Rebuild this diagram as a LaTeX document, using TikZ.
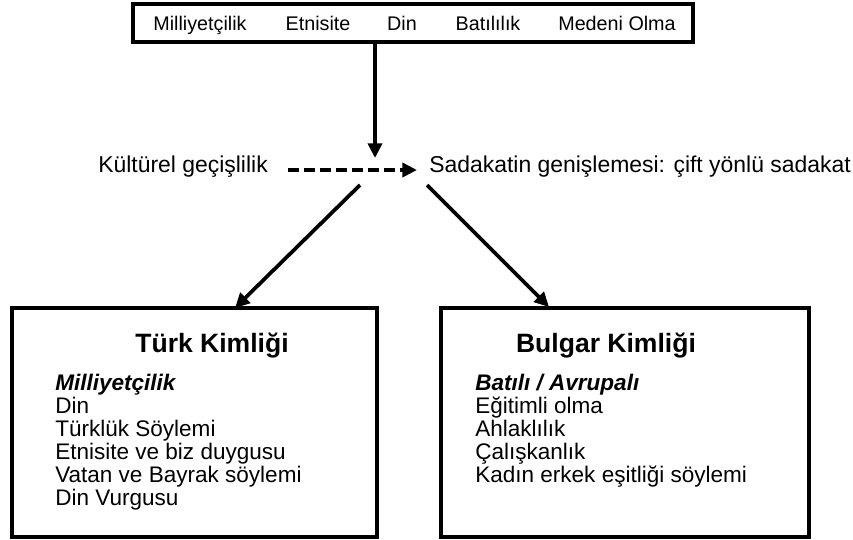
\documentclass[tikz,border=0pt]{standalone}
\usepackage{fontspec}
\setmainfont{Liberation Sans}
\usetikzlibrary{arrows.meta}

\tikzset{
  frame/.style={draw,line width=2.8pt,inner sep=0pt},
  conn/.style={line width=2.8pt,-{Triangle[length=11pt,width=10.5pt]}},
  dimtext/.style={anchor=base,inner sep=0pt,font=\fontsize{14.8}{17}\selectfont},
  midtext/.style={anchor=base west,inner sep=0pt,font=\fontsize{17.2}{20}\selectfont},
  idtitle/.style={anchor=base,inner sep=0pt,font=\fontsize{19.9}{23}\selectfont\bfseries},
  itemtext/.style={anchor=base west,inner sep=0pt,font=\fontsize{16.9}{19}\selectfont},
}

\begin{document}
\begin{tikzpicture}[x=0.75pt,y=-0.75pt]
\useasboundingbox (0,0) rectangle (853,539);
% top row of dimensions
\node[frame,minimum width=420pt,minimum height=28.5pt] (dims) at (413,23) {};
\foreach \i/\xx/\lab in {1/200/Milliyetçilik,2/318/Etnisite,3/402/Din,4/488/Batılılık,5/617/Medeni Olma}{
\node[dimtext] (dim\i) at (\xx,31) {\lab};}
\coordinate (hub) at (375,158);
\draw[conn] (dims.south -| hub) -- (hub);
% middle line
\node[midtext] (kult) at (98,172) {Kültürel geçişlilik};
\node[midtext] (sadak) at (429,172) {Sadakatin genişlemesi: çift yönlü sadakat};
\coordinate (dstart) at (288,170);
\coordinate (dend) at (417,170);
\draw[conn,dash pattern=on 8pt off 4pt] (dstart) -- (dend);
% identity boxes
\node[frame,minimum width=273.75pt,minimum height=171.75pt] (turk) at (194.5,422.5) {};
\node[frame,minimum width=276pt,minimum height=171.75pt] (bulg) at (625,422.5) {};
\coordinate (lsrc) at (360,185);
\coordinate (rsrc) at (427,185);
\coordinate (ltip) at (235,308);
\coordinate (rtip) at (549,307);
\draw[conn] (lsrc) -- (ltip);
\draw[conn] (rsrc) -- (rtip);
\node[idtitle] (turkt) at (212,352) {Türk Kimliği};
\node[idtitle] (bulgt) at (606,352) {Bulgar Kimliği};
\foreach \i/\lab in {0/{\bfseries\itshape Milliyetçilik},1/Din,2/Türklük Söylemi,3/Etnisite ve biz duygusu,4/Vatan ve Bayrak söylemi,5/Din Vurgusu}{
\node[itemtext] (tk\i) at (55,390+23.1*\i) {\lab};}
\foreach \i/\lab in {0/{\bfseries\itshape Batılı / Avrupalı},1/Eğitimli olma,2/Ahlaklılık,3/Çalışkanlık,4/Kadın erkek eşitliği söylemi}{
\node[itemtext] (bg\i) at (475,390+23.1*\i) {\lab};}
\end{tikzpicture}
\end{document}
